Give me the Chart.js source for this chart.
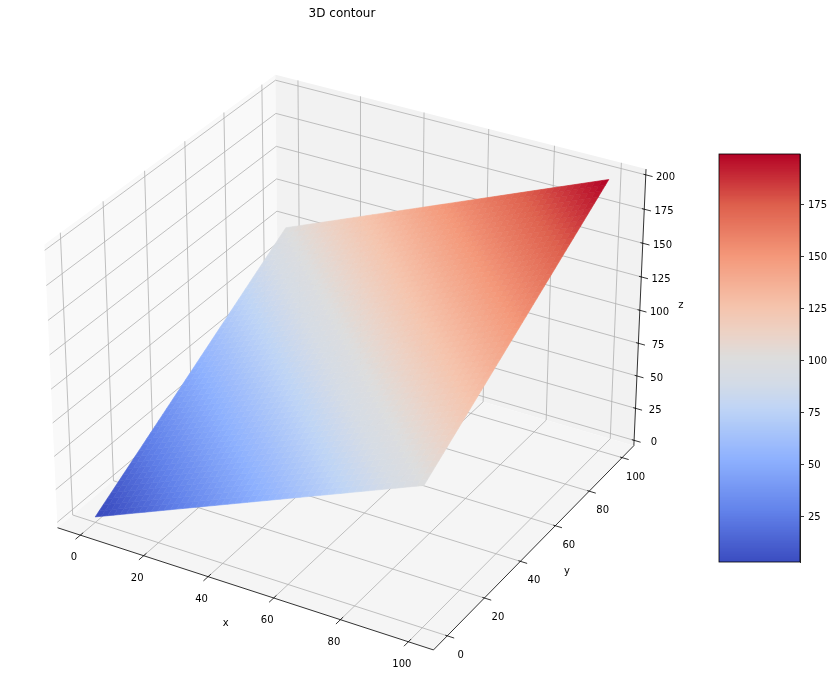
<!DOCTYPE html>
<html>
<head>
<meta charset="utf-8">
<title>3D contour</title>
<script src="https://cdn.jsdelivr.net/npm/chart.js@4"></script>
<style>
  body { margin: 0; background: #fff; }
  canvas { position: absolute; left: 0; top: 0; }
</style>
</head>
<body>
<canvas id="surfaceChart" width="833" height="700"></canvas>
<canvas id="colorbarChart" width="833" height="700"></canvas>
<script>
// ----- Data -----
const xTicks = [0, 20, 40, 60, 80, 100];
const yTicks = [0, 20, 40, 60, 80, 100];
const zTicks = [0, 25, 50, 75, 100, 125, 150, 175, 200];
const colorbarTicks = [25, 50, 75, 100, 125, 150, 175];

const surfaceX = [0,2,4,6,8,10,12,14,16,18,20,22,24,26,28,30,32,34,36,38,40,42,44,46,48,50,52,54,56,58,60,62,64,66,68,70,72,74,76,78,80,82,84,86,88,90,92,94,96,98,100];
const surfaceY = [0,2,4,6,8,10,12,14,16,18,20,22,24,26,28,30,32,34,36,38,40,42,44,46,48,50,52,54,56,58,60,62,64,66,68,70,72,74,76,78,80,82,84,86,88,90,92,94,96,98,100];
const surfaceZ = [
  [0,2,4,6,8,10,12,14,16,18,20,22,24,26,28,30,32,34,36,38,40,42,44,46,48,50,52,54,56,58,60,62,64,66,68,70,72,74,76,78,80,82,84,86,88,90,92,94,96,98,100],
  [2,4,6,8,10,12,14,16,18,20,22,24,26,28,30,32,34,36,38,40,42,44,46,48,50,52,54,56,58,60,62,64,66,68,70,72,74,76,78,80,82,84,86,88,90,92,94,96,98,100,102],
  [4,6,8,10,12,14,16,18,20,22,24,26,28,30,32,34,36,38,40,42,44,46,48,50,52,54,56,58,60,62,64,66,68,70,72,74,76,78,80,82,84,86,88,90,92,94,96,98,100,102,104],
  [6,8,10,12,14,16,18,20,22,24,26,28,30,32,34,36,38,40,42,44,46,48,50,52,54,56,58,60,62,64,66,68,70,72,74,76,78,80,82,84,86,88,90,92,94,96,98,100,102,104,106],
  [8,10,12,14,16,18,20,22,24,26,28,30,32,34,36,38,40,42,44,46,48,50,52,54,56,58,60,62,64,66,68,70,72,74,76,78,80,82,84,86,88,90,92,94,96,98,100,102,104,106,108],
  [10,12,14,16,18,20,22,24,26,28,30,32,34,36,38,40,42,44,46,48,50,52,54,56,58,60,62,64,66,68,70,72,74,76,78,80,82,84,86,88,90,92,94,96,98,100,102,104,106,108,110],
  [12,14,16,18,20,22,24,26,28,30,32,34,36,38,40,42,44,46,48,50,52,54,56,58,60,62,64,66,68,70,72,74,76,78,80,82,84,86,88,90,92,94,96,98,100,102,104,106,108,110,112],
  [14,16,18,20,22,24,26,28,30,32,34,36,38,40,42,44,46,48,50,52,54,56,58,60,62,64,66,68,70,72,74,76,78,80,82,84,86,88,90,92,94,96,98,100,102,104,106,108,110,112,114],
  [16,18,20,22,24,26,28,30,32,34,36,38,40,42,44,46,48,50,52,54,56,58,60,62,64,66,68,70,72,74,76,78,80,82,84,86,88,90,92,94,96,98,100,102,104,106,108,110,112,114,116],
  [18,20,22,24,26,28,30,32,34,36,38,40,42,44,46,48,50,52,54,56,58,60,62,64,66,68,70,72,74,76,78,80,82,84,86,88,90,92,94,96,98,100,102,104,106,108,110,112,114,116,118],
  [20,22,24,26,28,30,32,34,36,38,40,42,44,46,48,50,52,54,56,58,60,62,64,66,68,70,72,74,76,78,80,82,84,86,88,90,92,94,96,98,100,102,104,106,108,110,112,114,116,118,120],
  [22,24,26,28,30,32,34,36,38,40,42,44,46,48,50,52,54,56,58,60,62,64,66,68,70,72,74,76,78,80,82,84,86,88,90,92,94,96,98,100,102,104,106,108,110,112,114,116,118,120,122],
  [24,26,28,30,32,34,36,38,40,42,44,46,48,50,52,54,56,58,60,62,64,66,68,70,72,74,76,78,80,82,84,86,88,90,92,94,96,98,100,102,104,106,108,110,112,114,116,118,120,122,124],
  [26,28,30,32,34,36,38,40,42,44,46,48,50,52,54,56,58,60,62,64,66,68,70,72,74,76,78,80,82,84,86,88,90,92,94,96,98,100,102,104,106,108,110,112,114,116,118,120,122,124,126],
  [28,30,32,34,36,38,40,42,44,46,48,50,52,54,56,58,60,62,64,66,68,70,72,74,76,78,80,82,84,86,88,90,92,94,96,98,100,102,104,106,108,110,112,114,116,118,120,122,124,126,128],
  [30,32,34,36,38,40,42,44,46,48,50,52,54,56,58,60,62,64,66,68,70,72,74,76,78,80,82,84,86,88,90,92,94,96,98,100,102,104,106,108,110,112,114,116,118,120,122,124,126,128,130],
  [32,34,36,38,40,42,44,46,48,50,52,54,56,58,60,62,64,66,68,70,72,74,76,78,80,82,84,86,88,90,92,94,96,98,100,102,104,106,108,110,112,114,116,118,120,122,124,126,128,130,132],
  [34,36,38,40,42,44,46,48,50,52,54,56,58,60,62,64,66,68,70,72,74,76,78,80,82,84,86,88,90,92,94,96,98,100,102,104,106,108,110,112,114,116,118,120,122,124,126,128,130,132,134],
  [36,38,40,42,44,46,48,50,52,54,56,58,60,62,64,66,68,70,72,74,76,78,80,82,84,86,88,90,92,94,96,98,100,102,104,106,108,110,112,114,116,118,120,122,124,126,128,130,132,134,136],
  [38,40,42,44,46,48,50,52,54,56,58,60,62,64,66,68,70,72,74,76,78,80,82,84,86,88,90,92,94,96,98,100,102,104,106,108,110,112,114,116,118,120,122,124,126,128,130,132,134,136,138],
  [40,42,44,46,48,50,52,54,56,58,60,62,64,66,68,70,72,74,76,78,80,82,84,86,88,90,92,94,96,98,100,102,104,106,108,110,112,114,116,118,120,122,124,126,128,130,132,134,136,138,140],
  [42,44,46,48,50,52,54,56,58,60,62,64,66,68,70,72,74,76,78,80,82,84,86,88,90,92,94,96,98,100,102,104,106,108,110,112,114,116,118,120,122,124,126,128,130,132,134,136,138,140,142],
  [44,46,48,50,52,54,56,58,60,62,64,66,68,70,72,74,76,78,80,82,84,86,88,90,92,94,96,98,100,102,104,106,108,110,112,114,116,118,120,122,124,126,128,130,132,134,136,138,140,142,144],
  [46,48,50,52,54,56,58,60,62,64,66,68,70,72,74,76,78,80,82,84,86,88,90,92,94,96,98,100,102,104,106,108,110,112,114,116,118,120,122,124,126,128,130,132,134,136,138,140,142,144,146],
  [48,50,52,54,56,58,60,62,64,66,68,70,72,74,76,78,80,82,84,86,88,90,92,94,96,98,100,102,104,106,108,110,112,114,116,118,120,122,124,126,128,130,132,134,136,138,140,142,144,146,148],
  [50,52,54,56,58,60,62,64,66,68,70,72,74,76,78,80,82,84,86,88,90,92,94,96,98,100,102,104,106,108,110,112,114,116,118,120,122,124,126,128,130,132,134,136,138,140,142,144,146,148,150],
  [52,54,56,58,60,62,64,66,68,70,72,74,76,78,80,82,84,86,88,90,92,94,96,98,100,102,104,106,108,110,112,114,116,118,120,122,124,126,128,130,132,134,136,138,140,142,144,146,148,150,152],
  [54,56,58,60,62,64,66,68,70,72,74,76,78,80,82,84,86,88,90,92,94,96,98,100,102,104,106,108,110,112,114,116,118,120,122,124,126,128,130,132,134,136,138,140,142,144,146,148,150,152,154],
  [56,58,60,62,64,66,68,70,72,74,76,78,80,82,84,86,88,90,92,94,96,98,100,102,104,106,108,110,112,114,116,118,120,122,124,126,128,130,132,134,136,138,140,142,144,146,148,150,152,154,156],
  [58,60,62,64,66,68,70,72,74,76,78,80,82,84,86,88,90,92,94,96,98,100,102,104,106,108,110,112,114,116,118,120,122,124,126,128,130,132,134,136,138,140,142,144,146,148,150,152,154,156,158],
  [60,62,64,66,68,70,72,74,76,78,80,82,84,86,88,90,92,94,96,98,100,102,104,106,108,110,112,114,116,118,120,122,124,126,128,130,132,134,136,138,140,142,144,146,148,150,152,154,156,158,160],
  [62,64,66,68,70,72,74,76,78,80,82,84,86,88,90,92,94,96,98,100,102,104,106,108,110,112,114,116,118,120,122,124,126,128,130,132,134,136,138,140,142,144,146,148,150,152,154,156,158,160,162],
  [64,66,68,70,72,74,76,78,80,82,84,86,88,90,92,94,96,98,100,102,104,106,108,110,112,114,116,118,120,122,124,126,128,130,132,134,136,138,140,142,144,146,148,150,152,154,156,158,160,162,164],
  [66,68,70,72,74,76,78,80,82,84,86,88,90,92,94,96,98,100,102,104,106,108,110,112,114,116,118,120,122,124,126,128,130,132,134,136,138,140,142,144,146,148,150,152,154,156,158,160,162,164,166],
  [68,70,72,74,76,78,80,82,84,86,88,90,92,94,96,98,100,102,104,106,108,110,112,114,116,118,120,122,124,126,128,130,132,134,136,138,140,142,144,146,148,150,152,154,156,158,160,162,164,166,168],
  [70,72,74,76,78,80,82,84,86,88,90,92,94,96,98,100,102,104,106,108,110,112,114,116,118,120,122,124,126,128,130,132,134,136,138,140,142,144,146,148,150,152,154,156,158,160,162,164,166,168,170],
  [72,74,76,78,80,82,84,86,88,90,92,94,96,98,100,102,104,106,108,110,112,114,116,118,120,122,124,126,128,130,132,134,136,138,140,142,144,146,148,150,152,154,156,158,160,162,164,166,168,170,172],
  [74,76,78,80,82,84,86,88,90,92,94,96,98,100,102,104,106,108,110,112,114,116,118,120,122,124,126,128,130,132,134,136,138,140,142,144,146,148,150,152,154,156,158,160,162,164,166,168,170,172,174],
  [76,78,80,82,84,86,88,90,92,94,96,98,100,102,104,106,108,110,112,114,116,118,120,122,124,126,128,130,132,134,136,138,140,142,144,146,148,150,152,154,156,158,160,162,164,166,168,170,172,174,176],
  [78,80,82,84,86,88,90,92,94,96,98,100,102,104,106,108,110,112,114,116,118,120,122,124,126,128,130,132,134,136,138,140,142,144,146,148,150,152,154,156,158,160,162,164,166,168,170,172,174,176,178],
  [80,82,84,86,88,90,92,94,96,98,100,102,104,106,108,110,112,114,116,118,120,122,124,126,128,130,132,134,136,138,140,142,144,146,148,150,152,154,156,158,160,162,164,166,168,170,172,174,176,178,180],
  [82,84,86,88,90,92,94,96,98,100,102,104,106,108,110,112,114,116,118,120,122,124,126,128,130,132,134,136,138,140,142,144,146,148,150,152,154,156,158,160,162,164,166,168,170,172,174,176,178,180,182],
  [84,86,88,90,92,94,96,98,100,102,104,106,108,110,112,114,116,118,120,122,124,126,128,130,132,134,136,138,140,142,144,146,148,150,152,154,156,158,160,162,164,166,168,170,172,174,176,178,180,182,184],
  [86,88,90,92,94,96,98,100,102,104,106,108,110,112,114,116,118,120,122,124,126,128,130,132,134,136,138,140,142,144,146,148,150,152,154,156,158,160,162,164,166,168,170,172,174,176,178,180,182,184,186],
  [88,90,92,94,96,98,100,102,104,106,108,110,112,114,116,118,120,122,124,126,128,130,132,134,136,138,140,142,144,146,148,150,152,154,156,158,160,162,164,166,168,170,172,174,176,178,180,182,184,186,188],
  [90,92,94,96,98,100,102,104,106,108,110,112,114,116,118,120,122,124,126,128,130,132,134,136,138,140,142,144,146,148,150,152,154,156,158,160,162,164,166,168,170,172,174,176,178,180,182,184,186,188,190],
  [92,94,96,98,100,102,104,106,108,110,112,114,116,118,120,122,124,126,128,130,132,134,136,138,140,142,144,146,148,150,152,154,156,158,160,162,164,166,168,170,172,174,176,178,180,182,184,186,188,190,192],
  [94,96,98,100,102,104,106,108,110,112,114,116,118,120,122,124,126,128,130,132,134,136,138,140,142,144,146,148,150,152,154,156,158,160,162,164,166,168,170,172,174,176,178,180,182,184,186,188,190,192,194],
  [96,98,100,102,104,106,108,110,112,114,116,118,120,122,124,126,128,130,132,134,136,138,140,142,144,146,148,150,152,154,156,158,160,162,164,166,168,170,172,174,176,178,180,182,184,186,188,190,192,194,196],
  [98,100,102,104,106,108,110,112,114,116,118,120,122,124,126,128,130,132,134,136,138,140,142,144,146,148,150,152,154,156,158,160,162,164,166,168,170,172,174,176,178,180,182,184,186,188,190,192,194,196,198],
  [100,102,104,106,108,110,112,114,116,118,120,122,124,126,128,130,132,134,136,138,140,142,144,146,148,150,152,154,156,158,160,162,164,166,168,170,172,174,176,178,180,182,184,186,188,190,192,194,196,198,200]
];

// colour range of the colorbar
const colorMin = 3.3;
const colorMax = 199;

// coolwarm colormap: position, r, g, b
const coolwarm = [
  [0, 59, 76, 192], [0.125, 98, 130, 234], [0.25, 141, 176, 254], [0.375, 190, 212, 246], [0.4375, 211, 219, 231],
  [0.5, 221, 221, 221], [0.5625, 236, 210, 197], [0.625, 245, 196, 173], [0.75, 244, 152, 122], [0.875, 222, 96, 77], [1, 180, 4, 38]
];

function colorFor(value) {
  const t = Math.min(1, Math.max(0, (value - colorMin) / (colorMax - colorMin)));
  let i = 0;
  while (i < coolwarm.length - 2 && t > coolwarm[i + 1][0]) i++;
  const a = coolwarm[i];
  const b = coolwarm[i + 1];
  const f = (t - a[0]) / (b[0] - a[0]);
  const mix = k => Math.round(a[k] + (b[k] - a[k]) * f);
  return `rgb(${mix(1)},${mix(2)},${mix(3)})`;
}

// ----- 3D view (elev 30, azim -60, box 4:4:3) -----
const xRange = [-7.29, 107.29];
const yRange = [-7.29, 107.29];
const zRange = [-4.17, 204.17];
const boxXY = 1.1428;
const boxZ = 0.857;
const eyeDist = 10;
const elev = 30 * Math.PI / 180;
const azim = -60 * Math.PI / 180;

const viewN = [Math.cos(elev) * Math.cos(azim), Math.cos(elev) * Math.sin(azim), Math.sin(elev)];
const viewU = [-Math.sin(azim), Math.cos(azim), 0];
const viewV = [
  viewN[1] * viewU[2] - viewN[2] * viewU[1],
  viewN[2] * viewU[0] - viewN[0] * viewU[2],
  viewN[0] * viewU[1] - viewN[1] * viewU[0]
];
const dot = (a, b) => a[0] * b[0] + a[1] * b[1] + a[2] * b[2];

function project(x, y, z) {
  const p = [
    ((x - xRange[0]) / (xRange[1] - xRange[0]) - 0.5) * boxXY,
    ((y - yRange[0]) / (yRange[1] - yRange[0]) - 0.5) * boxXY,
    ((z - zRange[0]) / (zRange[1] - zRange[0]) - 0.5) * boxZ
  ];
  const s = eyeDist / (eyeDist - dot(p, viewN));
  return { x: dot(p, viewU) * s, y: dot(p, viewV) * s };
}

// ----- Datasets, painter's order -----
const [x0, x1] = xRange;
const [y0, y1] = yRange;
const [z0, z1] = zRange;
const layers = [];

function addPolygon(corners, color, width) {
  const pts = corners.map(c => project(c[0], c[1], c[2]));
  pts.push(pts[0]);
  layers.push({
    data: pts, showLine: true, fill: "shape", backgroundColor: color,
    borderColor: color, borderWidth: width, pointRadius: 0
  });
}

function addLine(corners, color, width) {
  layers.push({
    data: corners.map(c => project(c[0], c[1], c[2])), showLine: true, fill: false,
    borderColor: color, borderWidth: width, pointRadius: 0
  });
}

// panes
addPolygon([[x0, y0, z0], [x0, y1, z0], [x0, y1, z1], [x0, y0, z1]], "#f9f9f9", 0);
addPolygon([[x0, y1, z0], [x1, y1, z0], [x1, y1, z1], [x0, y1, z1]], "#f2f2f2", 0);
addPolygon([[x0, y0, z0], [x1, y0, z0], [x1, y1, z0], [x0, y1, z0]], "#f5f5f5", 0);

// grid
const gridColor = "#b0b0b0";
xTicks.forEach(t => addLine([[t, y0, z0], [t, y1, z0], [t, y1, z1]], gridColor, 0.8));
yTicks.forEach(t => addLine([[x1, t, z0], [x0, t, z0], [x0, t, z1]], gridColor, 0.8));
zTicks.forEach(t => addLine([[x0, y0, t], [x0, y1, t], [x1, y1, t]], gridColor, 0.8));

// axis lines and tick marks
addLine([[x0, y0, z0], [x1, y0, z0]], "#000", 0.8);
addLine([[x1, y0, z0], [x1, y1, z0]], "#000", 0.8);
addLine([[x1, y1, z0], [x1, y1, z1]], "#000", 0.8);
xTicks.forEach(t => addLine([[t, y0 - 2.3, z0], [t, y0 + 1.4, z0]], "#000", 0.8));
yTicks.forEach(t => addLine([[x1 + 2, t, z0], [x1 - 0.6, t, z0]], "#000", 0.8));
zTicks.forEach(t => addLine([[x1 + 2, y1, t], [x1 - 0.7, y1, t]], "#000", 0.8));

// surface facets
for (let j = 0; j < surfaceY.length - 1; j++) {
  for (let i = 0; i < surfaceX.length - 1; i++) {
    const mean = (surfaceZ[j][i] + surfaceZ[j][i + 1] + surfaceZ[j + 1][i] + surfaceZ[j + 1][i + 1]) / 4;
    addPolygon([
      [surfaceX[i], surfaceY[j], surfaceZ[j][i]],
      [surfaceX[i + 1], surfaceY[j], surfaceZ[j][i + 1]],
      [surfaceX[i + 1], surfaceY[j + 1], surfaceZ[j + 1][i + 1]],
      [surfaceX[i], surfaceY[j + 1], surfaceZ[j + 1][i]]
    ], colorFor(mean), 0.6);
  }
}

// ----- Text labels -----
const textPlugin = {
  id: "axisText",
  afterDatasetsDraw(chart) {
    const { ctx, scales } = chart;
    const put = (text, pos, dx, dy) => {
      ctx.fillText(text, scales.x.getPixelForValue(pos.x) + dx, scales.y.getPixelForValue(pos.y) + dy);
    };
    ctx.save();
    ctx.fillStyle = "#000";
    ctx.textAlign = "center";
    ctx.textBaseline = "middle";
    ctx.font = "10px 'DejaVu Sans'";
    xTicks.forEach(t => put(String(t), project(t, y0, z0), -6.5, 22.3));
    yTicks.forEach(t => put(String(t), project(x1, t, z0), 13.5, 19.5));
    zTicks.forEach(t => put(String(t), project(x1, y1, t), 19.7, 2.5));
    put("x", project((x0 + x1) / 2, y0, z0), -15, 36.5);
    put("y", project(x1, (y0 + y1) / 2, z0), 29, 28);
    put("z", project(x1, y1, (z0 + z1) / 2), 41, -5);
    ctx.font = "12px 'DejaVu Sans'";
    ctx.fillText("3D contour", 342, 14);
    ctx.restore();
  }
};

// ----- Surface chart -----
Chart.defaults.font.family = "'DejaVu Sans'";
Chart.defaults.font.size = 10;
Chart.defaults.color = "#000";

const pxPerUnit = 377;
const originX = 350.8;
const originY = 349;

new Chart(document.getElementById("surfaceChart"), {
  type: "scatter",
  data: { datasets: layers.reverse() },
  options: {
    responsive: false,
    animation: false,
    events: [],
    layout: { padding: 0 },
    plugins: { legend: { display: false }, tooltip: { enabled: false } },
    scales: {
      x: { type: "linear", display: false, min: -originX / pxPerUnit, max: (833 - originX) / pxPerUnit },
      y: { type: "linear", display: false, min: (originY - 700) / pxPerUnit, max: originY / pxPerUnit }
    }
  },
  plugins: [textPlugin]
});

// ----- Colorbar chart -----
const barLevels = [];
for (let i = 255; i >= 0; i--) {
  const low = colorMin + (colorMax - colorMin) * i / 256;
  barLevels.push({
    data: [[low, colorMax]],
    backgroundColor: colorFor(low + (colorMax - colorMin) / 512),
    borderWidth: 0, grouped: false, barPercentage: 1, categoryPercentage: 1
  });
}

const framePlugin = {
  id: "barFrame",
  afterDraw(chart) {
    const { ctx, chartArea: a } = chart;
    ctx.save();
    ctx.strokeStyle = "#000";
    ctx.lineWidth = 0.8;
    ctx.strokeRect(a.left, a.top, a.right - a.left, a.bottom - a.top);
    ctx.restore();
  }
};

new Chart(document.getElementById("colorbarChart"), {
  type: "bar",
  data: { labels: ["z"], datasets: barLevels },
  options: {
    responsive: false,
    animation: false,
    events: [],
    layout: { padding: { left: 719, top: 154, bottom: 138, right: 0 } },
    plugins: { legend: { display: false }, tooltip: { enabled: false } },
    scales: {
      x: { display: false },
      y: {
        position: "right",
        min: colorMin,
        max: colorMax,
        afterFit: scale => { scale.width = 33; },
        afterBuildTicks: scale => { scale.ticks = colorbarTicks.map(v => ({ value: v })); },
        border: { color: "#000", width: 0.8 },
        grid: { drawOnChartArea: false, tickLength: 4, tickColor: "#000", tickWidth: 0.8 },
        ticks: { padding: 4, labelOffset: 1, color: "#000", font: { size: 10 } }
      }
    }
  },
  plugins: [framePlugin]
});
</script>
</body>
</html>
